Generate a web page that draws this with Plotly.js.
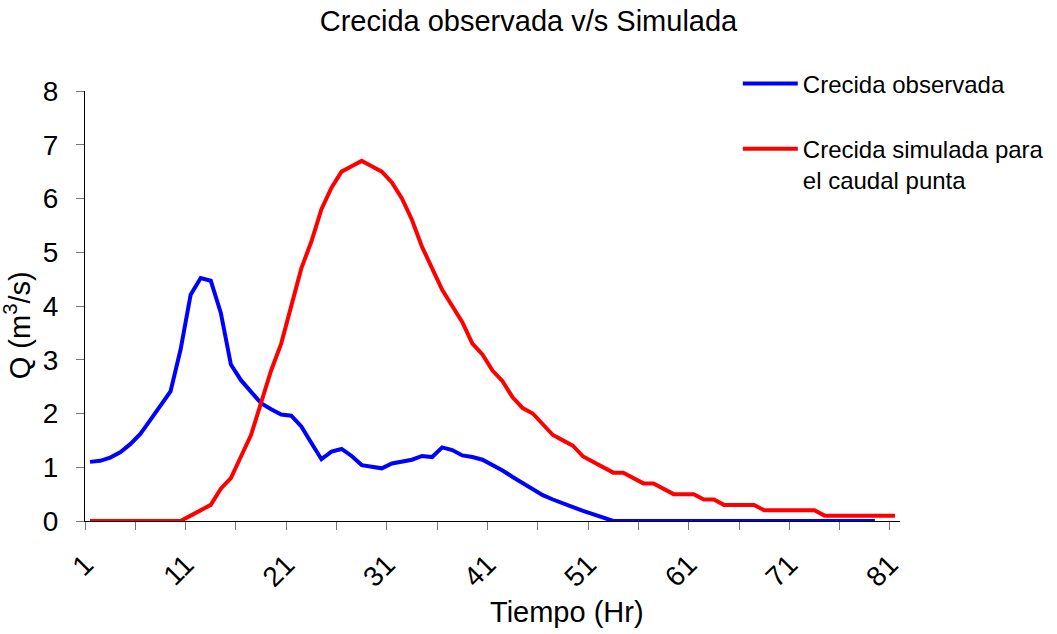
<!DOCTYPE html>
<html>
<head>
<meta charset="utf-8">
<script src="https://cdn.plot.ly/plotly-3.0.1.min.js"></script>
<style>
  html, body { margin: 0; padding: 0; background: #fff; }
  #chart { width: 1057px; height: 634px; }
</style>
</head>
<body>
<div id="chart"></div>
<script>
// hours (categories 1..81)
var hours = [1,2,3,4,5,6,7,8,9,10,11,12,13,14,15,16,17,18,19,20,
             21,22,23,24,25,26,27,28,29,30,31,32,33,34,35,36,37,38,39,40,
             41,42,43,44,45,46,47,48,49,50,51,52,53,54,55,56,57,58,59,60,
             61,62,63,64,65,66,67,68,69,70,71,72,73,74,75,76,77,78,79,80,81];

// observed flood (79 values)
var observada = [1.10,1.12,1.18,1.28,1.43,1.62,1.88,2.15,2.41,3.19,
                 4.21,4.52,4.47,3.87,2.91,2.62,2.40,2.19,2.08,1.98,
                 1.96,1.76,1.45,1.15,1.29,1.34,1.21,1.04,1.01,0.98,
                 1.07,1.10,1.14,1.21,1.19,1.37,1.32,1.22,1.19,1.14,
                 1.05,0.94,0.82,0.70,0.59,0.48,0.40,0.32,0.26,0.19,
                 0.13,0.06,0,0,0,0,0,0,0,0,
                 0,0,0,0,0,0,0,0,0,0,
                 0,0,0,0,0,0,0,0,0];

// simulated flood for peak discharge (81 values)
var simulada = [0,0,0,0,0,0,0,0,0,0,
                0.1,0.2,0.3,0.6,0.8,1.2,1.6,2.2,2.8,3.3,
                4.0,4.7,5.2,5.8,6.2,6.5,6.6,6.7,6.6,6.5,
                6.3,6.0,5.6,5.1,4.7,4.3,4.0,3.7,3.3,3.1,
                2.8,2.6,2.3,2.1,2.0,1.8,1.6,1.5,1.4,1.2,
                1.1,1.0,0.9,0.9,0.8,0.7,0.7,0.6,0.5,0.5,
                0.5,0.4,0.4,0.3,0.3,0.3,0.3,0.2,0.2,0.2,
                0.2,0.2,0.2,0.1,0.1,0.1,0.1,0.1,0.1,0.1,0.1];

var xLabels = [1,11,21,31,41,51,61,71,81];

var font = 'Arial, "Liberation Sans", sans-serif';

var trace1 = {
  x: hours.slice(0, observada.length),
  y: observada,
  mode: 'lines',
  name: 'Crecida observada',
  legendgroup: 'a',
  line: { color: '#0000FF', width: 4 }
};

var trace2 = {
  x: hours,
  y: simulada,
  mode: 'lines',
  name: 'Crecida simulada para<br>el caudal punta',
  legendgroup: 'b',
  line: { color: '#FF0000', width: 4 }
};

var layout = {
  width: 1057,
  height: 634,
  margin: { l: 85, r: 157, t: 91, b: 113, autoexpand: false },
  paper_bgcolor: '#fff',
  plot_bgcolor: '#fff',
  font: { family: font, color: '#000' },
  title: {
    text: 'Crecida observada v/s Simulada',
    font: { size: 29, family: font, color: '#000' },
    x: 0.5, xanchor: 'center',
    y: 0.967, yanchor: 'middle'
  },
  showlegend: true,
  legend: {
    x: 0.801, xanchor: 'left',
    y: 1.069, yanchor: 'top',
    font: { size: 24, family: font },
    traceorder: 'grouped',
    tracegroupgap: 31,
    valign: 'top',
    itemwidth: 55,
    bgcolor: 'rgba(0,0,0,0)'
  },
  xaxis: {
    range: [0.5, 81.5],
    automargin: false,
    tickmode: 'array',
    tickvals: xLabels,
    ticktext: xLabels.map(String),
    tickangle: -45,
    ticks: '',
    ticklabelstandoff: 15,
    ticklabelshift: -5,
    tickfont: { size: 28, family: font },
    showgrid: false,
    zeroline: false,
    showline: true,
    linecolor: '#000',
    linewidth: 1,
    minor: { tick0: 0.5, dtick: 5, ticks: 'outside', ticklen: 8, tickcolor: '#777', tickwidth: 1, showgrid: false }
  },
  yaxis: {
    range: [0, 8],
    automargin: false,
    dtick: 1,
    ticks: 'outside',
    ticklen: 8,
    tickcolor: '#777',
    ticklabelstandoff: 12,
    tickfont: { size: 28, family: font },
    showgrid: false,
    zeroline: false,
    showline: true,
    linecolor: '#000',
    linewidth: 1
  },
  annotations: [
    {
      text: 'Tiempo (Hr)',
      xref: 'paper', yref: 'paper',
      x: 0.5914, y: -0.2116,
      xanchor: 'center', yanchor: 'middle',
      showarrow: false,
      font: { size: 29, family: font, color: '#000' }
    },
    {
      text: 'Q (m<sup>3</sup>/s)',
      xref: 'paper', yref: 'paper',
      x: -0.083, y: 0.456,
      xanchor: 'center', yanchor: 'middle',
      textangle: -90,
      showarrow: false,
      font: { size: 29, family: font, color: '#000' }
    }
  ]
};

Plotly.newPlot('chart', [trace1, trace2], layout, { displayModeBar: false, staticPlot: true });
</script>
</body>
</html>
